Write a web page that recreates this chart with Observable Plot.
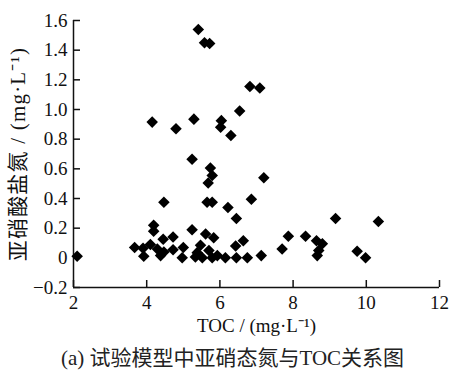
<!DOCTYPE html>
<html>
<head>
<meta charset="utf-8">
<script src="https://cdn.jsdelivr.net/npm/d3@7"></script>
<script src="https://cdn.jsdelivr.net/npm/@observablehq/plot@0.6"></script>
<style>
  html, body { margin: 0; padding: 0; background: #fff; }
  #chart { width: 451px; height: 345px; }
  .caption { width: 451px; text-align: center; font-family: "Liberation Serif", "Noto Sans CJK SC", serif; font-size: 21px; line-height: 26px; color: #222; padding-left: 14px; box-sizing: border-box; }
</style>
</head>
<body>
<div id="chart"></div>
<div class="caption">(a) 试验模型中亚硝态氮与TOC关系图</div>
<script>
const tocValues = [2.1, 3.67, 3.9, 3.92, 4.1, 4.29, 4.38, 4.47, 4.19, 4.19, 4.45, 4.72, 4.72, 5.0, 4.97, 4.47,
  4.15, 4.8, 5.29, 5.41, 5.58, 5.72, 6.04, 6.02, 6.3, 6.54, 6.82, 7.09, 5.24, 5.74, 5.79, 5.68, 7.2,
  5.65, 5.79, 6.22, 6.86, 6.45, 5.24, 5.61, 5.83, 5.47, 5.38, 5.33, 5.52, 5.7, 5.79, 5.93, 6.15, 6.43,
  6.45, 6.64, 6.75, 7.13, 7.7, 7.87, 8.34, 8.64, 8.8, 8.7, 8.66, 9.16, 9.75, 9.98, 10.33];
const nitriteValues = [0.01, 0.07, 0.065, 0.01, 0.09, 0.06, 0.015, 0.04, 0.22, 0.18, 0.125, 0.14, 0.055, 0.07, 0.0, 0.375,
  0.915, 0.87, 0.935, 1.54, 1.45, 1.445, 0.925, 0.88, 0.825, 0.99, 1.155, 1.145, 0.665, 0.605, 0.555, 0.505, 0.54,
  0.375, 0.375, 0.34, 0.395, 0.265, 0.19, 0.16, 0.135, 0.085, 0.035, 0.005, 0.0, 0.05, 0.0, 0.015, 0.0, 0.08,
  0.0, 0.115, 0.0, 0.015, 0.06, 0.145, 0.145, 0.115, 0.095, 0.05, 0.015, 0.265, 0.045, 0.0, 0.245];
const xTicks = [2, 4, 6, 8, 10, 12];
const yTicks = [-0.2, 0, 0.2, 0.4, 0.6, 0.8, 1.0, 1.2, 1.4, 1.6];
const xLabel = "TOC / (mg·L⁻¹)";
const yLabel = "亚硝酸盐氮 / (mg·L⁻¹)";

const data = tocValues.map((x, i) => ({x, y: nitriteValues[i]}));
const fmtY = d => d === 0 ? "0" : (d < 0 ? "−" + Math.abs(d).toFixed(1) : d.toFixed(1));
const xMin = xTicks[0], yMin = yTicks[0];

const chart = Plot.plot({
  width: 451,
  height: 345,
  marginTop: 20,
  marginLeft: 73,
  marginRight: 12,
  marginBottom: 58,
  style: {fontFamily: "'Liberation Serif', 'Noto Sans CJK SC', serif", fontSize: "19px", color: "#111", background: "#fff"},
  x: {domain: [xTicks[0], xTicks[xTicks.length - 1]]},
  y: {domain: [yTicks[0], yTicks[yTicks.length - 1]]},
  marks: [
    Plot.ruleX([xMin], {stroke: "#111", strokeWidth: 1.5}),
    Plot.ruleY([yMin], {stroke: "#111", strokeWidth: 1.5}),
    Plot.ruleX(xTicks, {x: d => d, y1: yMin, y2: yMin, insetTop: -7, stroke: "#111", strokeWidth: 1.5}),
    Plot.ruleY(yTicks, {y: d => d, x1: xMin, x2: xMin, insetRight: -7, stroke: "#111", strokeWidth: 1.5}),
    Plot.axisX({ticks: xTicks, tickSize: 0, tickPadding: 8, tickFormat: d => String(d), label: null, fontSize: 19}),
    Plot.axisY({ticks: yTicks, tickSize: 0, tickPadding: 6, tickFormat: fmtY, label: null, fontSize: 19}),
    Plot.dot(data, {x: "x", y: "y", symbol: "diamond2", r: 5.2, fill: "#000", stroke: null}),
    Plot.text([xLabel], {frameAnchor: "bottom", textAnchor: "middle", dy: 44, fontSize: 19, fill: "#111"}),
    Plot.text([yLabel], {frameAnchor: "left", textAnchor: "middle", dx: -55, rotate: -90, fontSize: 21, fill: "#111", style: "letter-spacing: 1px"})
  ]
});
chart.querySelectorAll("text").forEach(t => { if (t.textContent === yLabel) t.setAttribute("letter-spacing", "1.2"); });
document.getElementById("chart").appendChild(chart);
</script>
</body>
</html>
